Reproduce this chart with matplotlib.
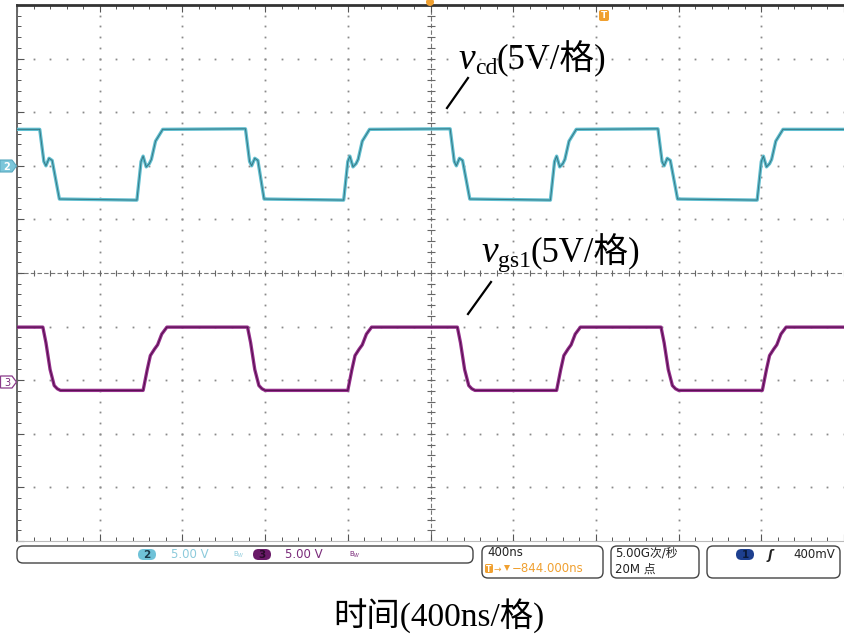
import matplotlib
matplotlib.use('Agg')
import matplotlib.pyplot as plt
import numpy as np
from matplotlib.patches import FancyBboxPatch, Polygon, Circle

# ---------------- data ----------------
# time in ns (screen spans -2000..2000 ns, 400 ns/div), voltage in V
cd_t = [-2000, -1890, -1870, -1860, -1845, -1830, -1795,
        -1420, -1400, -1390, -1375, -1360, -1350, -1330, -1295,
        -895, -875, -865, -850, -835, -805,
        -420, -400, -390, -375, -360, -350, -330, -295,
        95, 115, 125, 140, 155, 190,
        580, 600, 610, 625, 640, 650, 670, 705,
        1100, 1120, 1130, 1145, 1160, 1195,
        1580, 1600, 1610, 1625, 1640, 1650, 1670, 1705, 2000]
cd_v = [3.4, 3.4, 0.4, 0.0, 0.7, 0.5, -3.1,
        -3.2, 0.4, 0.9, -0.1, 0.2, 0.6, 2.3, 3.4,
        3.45, 0.4, 0.0, 0.7, 0.5, -3.1,
        -3.2, 0.4, 0.9, -0.1, 0.2, 0.6, 2.3, 3.4,
        3.45, 0.4, 0.0, 0.7, 0.5, -3.1,
        -3.2, 0.4, 0.9, -0.1, 0.2, 0.6, 2.3, 3.4,
        3.45, 0.4, 0.0, 0.7, 0.5, -3.1,
        -3.2, 0.4, 0.9, -0.1, 0.2, 0.6, 2.3, 3.4, 3.4]

gs_t = [-2000, -1875, -1860, -1840, -1820, -1805, -1790,
        -1390, -1370, -1355, -1335, -1320, -1300, -1275,
        -885, -870, -850, -830, -815, -800,
        -400, -380, -365, -345, -330, -310, -285,
        130, 145, 165, 185, 200, 215,
        610, 630, 645, 665, 680, 700, 725,
        1115, 1130, 1150, 1170, 1185, 1200,
        1605, 1625, 1640, 1660, 1675, 1695, 1720, 2000]
gs_v = [4.95, 4.95, 3.5, 1.0, -0.5, -0.8, -0.95,
        -0.95, 1.0, 2.3, 2.9, 3.3, 4.3, 4.95,
        4.95, 3.5, 1.0, -0.5, -0.8, -0.95,
        -0.95, 1.0, 2.3, 2.9, 3.3, 4.3, 4.95,
        4.95, 3.5, 1.0, -0.5, -0.8, -0.95,
        -0.95, 1.0, 2.3, 2.9, 3.3, 4.3, 4.95,
        4.95, 3.5, 1.0, -0.5, -0.8, -0.95,
        -0.95, 1.0, 2.3, 2.9, 3.3, 4.3, 4.95, 4.95]

volts_per_div = 5.0
ns_per_div = 400
cd_ref_div = 2.0     # channel 2 ground marker position (div)
gs_ref_div = -2.0    # channel 3 ground marker position (div)

cd_name, cd_sub, cd_unit = 'v', 'cd', '(5V/格)'
gs_name, gs_sub, gs_unit = 'v', 'gs1', '(5V/格)'
x_label = '时间(400ns/格)'
ch2_text = '5.00 V'
ch3_text = '5.00 V'
time_text = '400ns'
trig_pos_text = '−844.000ns'
rate_text = '5.00G次/秒'
points_text = '20M 点'
trig_level_text = '400mV'

# ---------------- figure ----------------
W, H = 844, 637
serif_cjk = ['Liberation Serif', 'Noto Sans CJK SC']
sans_cjk = ['DejaVu Sans', 'Noto Sans CJK SC']

fig = plt.figure(figsize=(W / 100, H / 100), dpi=100)
fig.patch.set_facecolor('white')

# screen axes (pixel box: x 17..844, y 5..541)
L, R, T, B = 17, 844, 5, 541
ax = fig.add_axes([L / W, 1 - B / H, (R - L) / W, (B - T) / H])
xmin, xmax = -5 * ns_per_div, 5 * ns_per_div
ax.set_xlim(xmin, xmax)
ax.set_ylim(-5, 5)
ax.set_facecolor('white')

# dotted graticule
minor_x = np.arange(xmin, xmax + 1, ns_per_div / 5)
minor_y = np.arange(-5, 5.01, 0.2)
for k in range(-4, 5):
    if k == 0:
        continue
    ax.plot(np.full_like(minor_y, k * ns_per_div), minor_y, ls='none', marker='s',
            ms=1.3, mew=0, color='#8a8a8a', zorder=1)
    ax.plot(minor_x, np.full_like(minor_x, k), ls='none', marker='s',
            ms=1.3, mew=0, color='#8a8a8a', zorder=1)
# centre cross-hair with ticks
ax.axhline(0, color='#777777', lw=0.8, ls=(0, (4, 2)), zorder=1)
ax.axvline(0, color='#777777', lw=0.8, ls=(0, (4, 2)), zorder=1)
ax.plot(minor_x, np.zeros_like(minor_x), ls='none', marker='|', ms=5, mew=0.8,
        color='#666666', zorder=1)
ax.plot(np.zeros_like(minor_y), minor_y, ls='none', marker='_', ms=6, mew=0.8,
        color='#666666', zorder=1)

# frame ticks
ax.set_xticks(np.arange(xmin, xmax + 1, ns_per_div))
ax.set_yticks(np.arange(-5, 6, 1))
ax.set_xticks(minor_x, minor=True)
ax.set_yticks(minor_y, minor=True)
ax.tick_params(which='both', direction='in', top=True, bottom=True, left=True,
               right=False, labelbottom=False, labelleft=False, color='#555555')
ax.tick_params(which='major', length=5, width=0.8)
ax.tick_params(which='minor', length=3, width=0.7)
ax.spines['right'].set_visible(False)
ax.spines['top'].set_color('#333333')
ax.spines['top'].set_linewidth(2.0)
ax.spines['left'].set_color('#666666')
ax.spines['left'].set_linewidth(1.4)
ax.spines['bottom'].set_color('#bbbbbb')
ax.spines['bottom'].set_linewidth(0.8)

# traces
cd_y = cd_ref_div + np.array(cd_v) / volts_per_div
gs_y = gs_ref_div + np.array(gs_v) / volts_per_div
ax.plot(cd_t, cd_y, color='#62bfd0', lw=2.4, solid_joinstyle='round', zorder=3)
ax.plot(cd_t, cd_y, color='#2d6c78', lw=0.7, alpha=0.85, zorder=4)
ax.plot(gs_t, gs_y, color='#952f8c', lw=2.4, solid_joinstyle='round', zorder=3)
ax.plot(gs_t, gs_y, color='#45093f', lw=0.7, alpha=0.85, zorder=4)

# ---------------- overlay in pixel coordinates ----------------
ov = fig.add_axes([0, 0, 1, 1], zorder=10)
ov.set_xlim(0, W)
ov.set_ylim(H, 0)
ov.axis('off')
ov.patch.set_alpha(0)
renderer = fig.canvas.get_renderer()

def seq_text(x, y, parts):
    """parts: (string, fontsize, style, baseline shift in px)"""
    for s, size, style, dy in parts:
        t = ov.text(x, y + dy, s, ha='left', va='baseline', fontsize=size,
                    fontstyle=style, family=serif_cjk, color='black')
        bb = t.get_window_extent(renderer=renderer)
        x += bb.width

# channel markers on left
ov.add_patch(Polygon([(0, 160), (12, 160), (16.5, 166), (12, 172), (0, 172)],
                     closed=True, fc='#7cc6da', ec='#5aaac0', lw=0.8))
ov.text(7, 166.5, '2', ha='center', va='center', fontsize=7, color='white',
        fontweight='bold')
ov.add_patch(Polygon([(0.5, 376), (12, 376), (16.5, 382), (12, 388), (0.5, 388)],
                     closed=True, fc='white', ec='#8a3a8a', lw=0.9))
ov.text(7, 382.5, '3', ha='center', va='center', fontsize=7, color='#7a2a7a')

# trigger markers
ov.add_patch(Circle((430, 2), 4, fc='#f0a030', ec='none'))
ov.add_patch(FancyBboxPatch((599, 10), 10, 11, boxstyle='round,pad=0,rounding_size=2',
                            fc='#f0a030', ec='none'))
ov.text(604, 16, 'T', ha='center', va='center', fontsize=6.5, color='white',
        fontweight='bold')

# labels and leader lines
seq_text(458, 69, [(cd_name, 27, 'italic', 0), (cd_sub, 17, 'normal', 5),
                   (cd_unit, 25, 'normal', 0)])
ov.plot([447, 468], [108, 78], color='black', lw=1.6)
seq_text(481, 262, [(gs_name, 27, 'italic', 0), (gs_sub, 17, 'normal', 5),
                    (gs_unit, 25, 'normal', 0)])
ov.plot([468, 491], [314, 282], color='black', lw=1.6)

# status bar boxes
def box(x0, y0, x1, y1):
    ov.add_patch(FancyBboxPatch((x0, y0), x1 - x0, y1 - y0,
                                boxstyle='round,pad=0,rounding_size=6',
                                fc='white', ec='#444444', lw=1.0))

box(17, 546, 473, 563)
box(482, 546, 603, 578)
box(611, 546, 699, 578)
box(707, 546, 840, 578)

def pill(cx, cy, fc, label, tc):
    ov.add_patch(FancyBboxPatch((cx - 9, cy - 5.5), 18, 11,
                                boxstyle='round,pad=0,rounding_size=5.5',
                                fc=fc, ec='none'))
    ov.text(cx, cy + 0.5, label, ha='center', va='center', fontsize=7.5,
            color=tc, fontweight='bold')

fs = 8.5
pill(147, 554.5, '#6fc2d8', '2', '#1a3a4a')
ov.text(171, 555, ch2_text, ha='left', va='center', fontsize=fs, color='#8ccadb',
        family=sans_cjk)
ov.text(233, 555, 'B$_W$', ha='left', va='center', fontsize=5, color='#8ccadb')
pill(262, 554.5, '#6a1a68', '3', '#2a0a2a')
ov.text(285, 555, ch3_text, ha='left', va='center', fontsize=fs, color='#7a2a7a',
        family=sans_cjk)
ov.text(349, 555, 'B$_W$', ha='left', va='center', fontsize=5, color='#7a2a7a')

ov.text(487, 553, time_text, ha='left', va='center', fontsize=fs, color='#222222',
        family=sans_cjk)
ov.add_patch(FancyBboxPatch((485, 564), 8, 9, boxstyle='round,pad=0,rounding_size=1.5',
                            fc='#f0a030', ec='none'))
ov.text(489, 569, 'T', ha='center', va='center', fontsize=5.5, color='white',
        fontweight='bold')
ov.text(494, 569, '→', ha='left', va='center', fontsize=6.5, color='#f0a030',
        family=sans_cjk)
ov.plot([507], [568], marker='v', ms=4, color='#f0a030', mew=0)
ov.text(512, 569, trig_pos_text, ha='left', va='center', fontsize=fs,
        color='#f0a030', family=sans_cjk)

ov.text(615, 553, rate_text, ha='left', va='center', fontsize=fs, color='#222222',
        family=sans_cjk)
ov.text(615, 569, points_text, ha='left', va='center', fontsize=fs, color='#222222',
        family=sans_cjk)

pill(745, 554.5, '#1d3f8f', '1', '#0a1a3a')
ov.text(770, 555, 'ʃ', ha='center', va='center', fontsize=9, color='#222222',
        fontstyle='italic', fontweight='bold')
ov.text(793, 555, trig_level_text, ha='left', va='center', fontsize=fs,
        color='#222222', family=sans_cjk)

# x axis caption
ov.text(439, 617, x_label, ha='center', va='center', fontsize=24, family=serif_cjk,
        color='black')

fig.savefig('out.png', dpi=100, facecolor='white')
